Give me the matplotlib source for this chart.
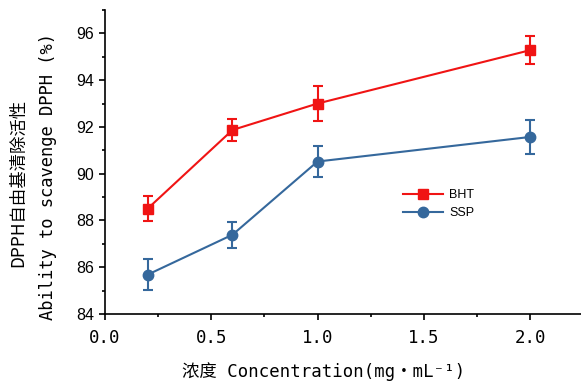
import matplotlib
matplotlib.use("Agg")
import matplotlib.pyplot as plt
from matplotlib.lines import Line2D
from matplotlib.ticker import MultipleLocator

# data
conc = [0.2, 0.6, 1.0, 2.0]
bht = [88.5, 91.87, 93.0, 95.28]
bht_err = [0.53, 0.47, 0.74, 0.6]
ssp = [85.68, 87.39, 90.52, 91.57]
ssp_err = [0.66, 0.55, 0.65, 0.72]

RED = '#F01414'
BLUE = '#35689C'
mono = ['DejaVu Sans Mono', 'Noto Sans CJK SC']

fig = plt.figure(figsize=(5.81, 3.84), dpi=100)
ax = fig.add_axes([105 / 581, 1 - 314 / 384, 476 / 581, 304 / 384])

ax.errorbar(conc, bht, yerr=bht_err, color=RED, marker='s', ms=7, lw=1.5,
            elinewidth=1.5, capsize=3.5, capthick=1.5)
ax.errorbar(conc, ssp, yerr=ssp_err, color=BLUE, marker='o', ms=7.5, lw=1.5,
            elinewidth=1.5, capsize=3.5, capthick=1.5)

ax.set_xlim(0, 2.24)
ax.set_ylim(84, 97)
ax.xaxis.set_major_locator(MultipleLocator(0.5))
ax.xaxis.set_minor_locator(MultipleLocator(0.25))
ax.yaxis.set_major_locator(MultipleLocator(2))
ax.yaxis.set_minor_locator(MultipleLocator(1))

for s in ['top', 'right']:
    ax.spines[s].set_visible(False)
for s in ['left', 'bottom']:
    ax.spines[s].set_linewidth(1.2)

ax.tick_params(which='major', direction='out', length=4, width=1.2)
ax.tick_params(which='minor', direction='out', length=2.5, width=1.2)
ax.tick_params(axis='x', pad=7)
ax.tick_params(axis='y', pad=4)

for lab in ax.get_xticklabels():
    lab.set_family(mono)
    lab.set_fontsize(12.5)
for lab in ax.get_yticklabels():
    lab.set_family('Liberation Sans')
    lab.set_fontsize(11.5)

fig.text(324 / 581, 1 - 372 / 384, '浓度 Concentration(mg・mL⁻¹)',
         family=mono, fontsize=12.5, ha='center', va='center')
fig.text(18 / 581, 1 - 183 / 384, 'DPPH自由基清除活性', family='Noto Sans CJK SC',
         fontsize=12.5, rotation=90, ha='center', va='center')
fig.text(48 / 581, 1 - 176 / 384, 'Ability to scavenge DPPH (%)', family=mono,
         fontsize=12.3, rotation=90, ha='center', va='center')

handles = [Line2D([], [], color=RED, marker='s', ms=7, lw=1.5),
           Line2D([], [], color=BLUE, marker='o', ms=7.5, lw=1.5)]
leg = ax.legend(handles, ['BHT', 'SSP'], loc='upper left', bbox_to_anchor=(0.626, 0.41),
                frameon=False, borderpad=0, borderaxespad=0, handlelength=3.2,
                handletextpad=0.5, labelspacing=0.45,
                prop={'family': ['Liberation Sans Narrow', 'Liberation Sans'], 'size': 9})

fig.savefig('out.png', dpi=100)
